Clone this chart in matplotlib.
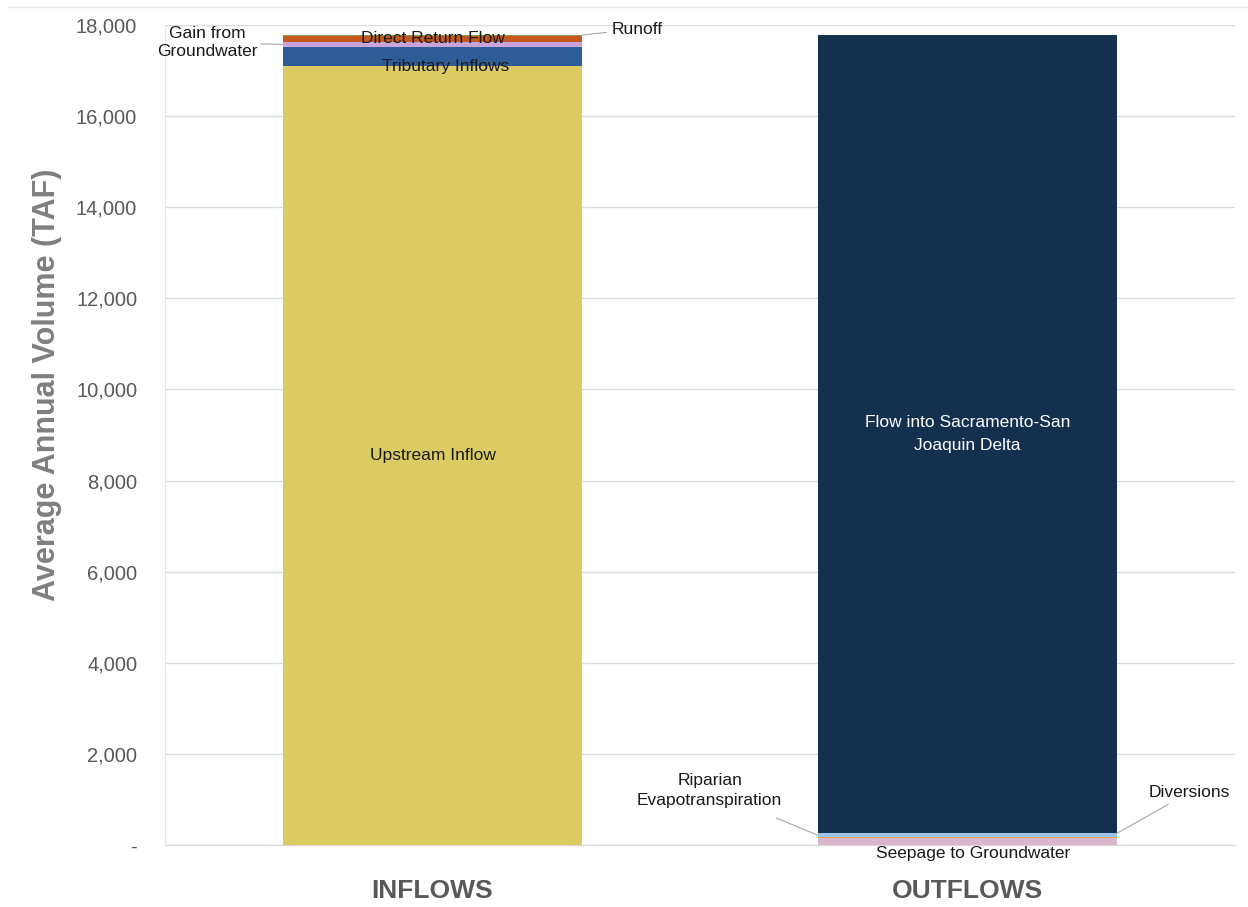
import matplotlib
matplotlib.use("Agg")
import matplotlib.pyplot as plt
import numpy as np
from matplotlib import font_manager
from matplotlib.lines import Line2D

# ---- data ----
categories = ["INFLOWS", "OUTFLOWS"]
inflow_labels = ["Upstream Inflow", "Tributary Inflows", "Gain from\nGroundwater",
                 "Direct Return Flow", "Runoff"]
inflow_values = [17100, 420, 110, 130, 20]
inflow_colors = ["#dccb62", "#2e5c97", "#c9a3d9", "#c5581c", "#8c9a4a"]

outflow_labels = ["Seepage to Groundwater", "Diversions", "Riparian\nEvapotranspiration",
                  "Flow into Sacramento-San\nJoaquin Delta"]
outflow_values = [150, 20, 90, 17520]
outflow_colors = ["#d9b6cc", "#f0a060", "#9dc3e6", "#14304f"]

yticks = [0, 2000, 4000, 6000, 8000, 10000, 12000, 14000, 16000, 18000]

# ---- fonts ----
avail = {f.name for f in font_manager.fontManager.ttflist}
narrow = "Liberation Sans Narrow" if "Liberation Sans Narrow" in avail else "Liberation Sans"
plt.rcParams["font.family"] = ["Liberation Sans", "DejaVu Sans"]

W, H = 1248, 907
fig = plt.figure(figsize=(W / 100, H / 100), dpi=100)
# faint chart-area border at the top
fig.lines.append(Line2D([8 / W, 1], [1 - 7 / H, 1 - 7 / H], transform=fig.transFigure,
                        color="#ececec", linewidth=1))
ax = fig.add_axes([165 / W, 1 - 845 / H, (1235 - 165) / W, (845 - 25) / H])

bar_w = 0.56
x = np.arange(len(categories))

bottom = 0
in_bottoms = []
for v, c in zip(inflow_values, inflow_colors):
    ax.bar(x[0], v, bottom=bottom, width=bar_w, color=c, linewidth=0, zorder=3)
    in_bottoms.append(bottom)
    bottom += v

bottom = 0
out_bottoms = []
for v, c in zip(outflow_values, outflow_colors):
    ax.bar(x[1], v, bottom=bottom, width=bar_w, color=c, linewidth=0, zorder=3)
    out_bottoms.append(bottom)
    bottom += v

ax.set_xlim(-0.5, 1.5)
ax.set_ylim(0, 18000)
ax.set_yticks(yticks)
ax.set_yticklabels(["-" if t == 0 else f"{t:,}" for t in yticks],
                   fontsize=14.5, color="#595959")
ax.tick_params(axis="y", length=0, pad=20)
ax.tick_params(axis="x", length=0)
ax.set_xticks([])
ax.grid(axis="y", color="#dcdcdc", linewidth=1, zorder=0)
for s in ["top", "right"]:
    ax.spines[s].set_visible(False)
ax.spines["left"].set_color("#e4e4e4")
ax.spines["bottom"].set_color("#d9d9d9")

fig.text(47 / W, 1 - 385 / H, "Average Annual Volume (TAF)", rotation=90,
         ha="center", va="center", fontsize=22, fontweight="bold",
         color="#7f7f7f", family=narrow)

# category labels
for xi, cat in zip(x, categories):
    ax.text(xi, -750, cat, ha="center", va="top", fontsize=19, fontweight="bold",
            color="#595959", family="Liberation Sans")

lab_fs = 12.5
half = bar_w / 2
# inflow labels
ax.text(x[0], inflow_values[0] / 2, inflow_labels[0], ha="center", va="center",
        fontsize=lab_fs, family=narrow, color="#1a1a1a", zorder=5)
ax.text(x[0] + 0.025, in_bottoms[1], inflow_labels[1], ha="center", va="center",
        fontsize=lab_fs, family=narrow, color="#1a1a1a", zorder=5)
ax.text(x[0], in_bottoms[3] + inflow_values[3] / 2, inflow_labels[3], ha="center",
        va="center", fontsize=lab_fs, family=narrow, color="#1a1a1a", zorder=5)
# gain from groundwater with leader
gy = in_bottoms[2] + inflow_values[2] / 2
ax.annotate(inflow_labels[2], xy=(x[0] - half, gy), xytext=(x[0] - 0.42, gy + 40),
            ha="center", va="center", fontsize=lab_fs, family=narrow, color="#1a1a1a",
            linespacing=1.3,
            arrowprops=dict(arrowstyle="-", color="#a6a6a6", lw=0.8,
                            shrinkA=0, shrinkB=0),
            zorder=5)
# runoff
ry = in_bottoms[4] + inflow_values[4]
ax.annotate(inflow_labels[4], xy=(x[0] + half, ry), xytext=(x[0] + 0.335, ry + 130),
            ha="left", va="center", fontsize=lab_fs, family=narrow, color="#1a1a1a",
            arrowprops=dict(arrowstyle="-", color="#a6a6a6", lw=0.8, shrinkA=2, shrinkB=0),
            zorder=5)

# outflow labels
ax.text(x[1], out_bottoms[3] + outflow_values[3] / 2, outflow_labels[3],
        ha="center", va="center", fontsize=lab_fs, family=narrow, color="white",
        linespacing=1.6, zorder=5)
ax.text(x[1] + 0.01, -20, outflow_labels[0], ha="center", va="top",
        fontsize=lab_fs, family=narrow, color="#1a1a1a", zorder=5)
# riparian ET
ey = out_bottoms[2] + outflow_values[2] / 2
ax.annotate(outflow_labels[2], xy=(x[1] - half, ey), xytext=(x[1] - 0.482, 1200),
            ha="center", va="center", fontsize=lab_fs, family=narrow, color="#1a1a1a",
            linespacing=1.4,
            arrowprops=dict(arrowstyle="-", color="#a6a6a6", lw=0.8, shrinkA=14, shrinkB=0),
            zorder=5)
# diversions
dy = out_bottoms[1] + outflow_values[1] / 2
ax.annotate(outflow_labels[1], xy=(x[1] + half, dy + 100), xytext=(x[1] + 0.338, 1150),
            ha="left", va="center", fontsize=lab_fs, family=narrow, color="#1a1a1a",
            arrowprops=dict(arrowstyle="-", color="#a6a6a6", lw=0.8, shrinkA=2, shrinkB=0),
            zorder=5)

fig.savefig("out.png", dpi=100, facecolor="white")
